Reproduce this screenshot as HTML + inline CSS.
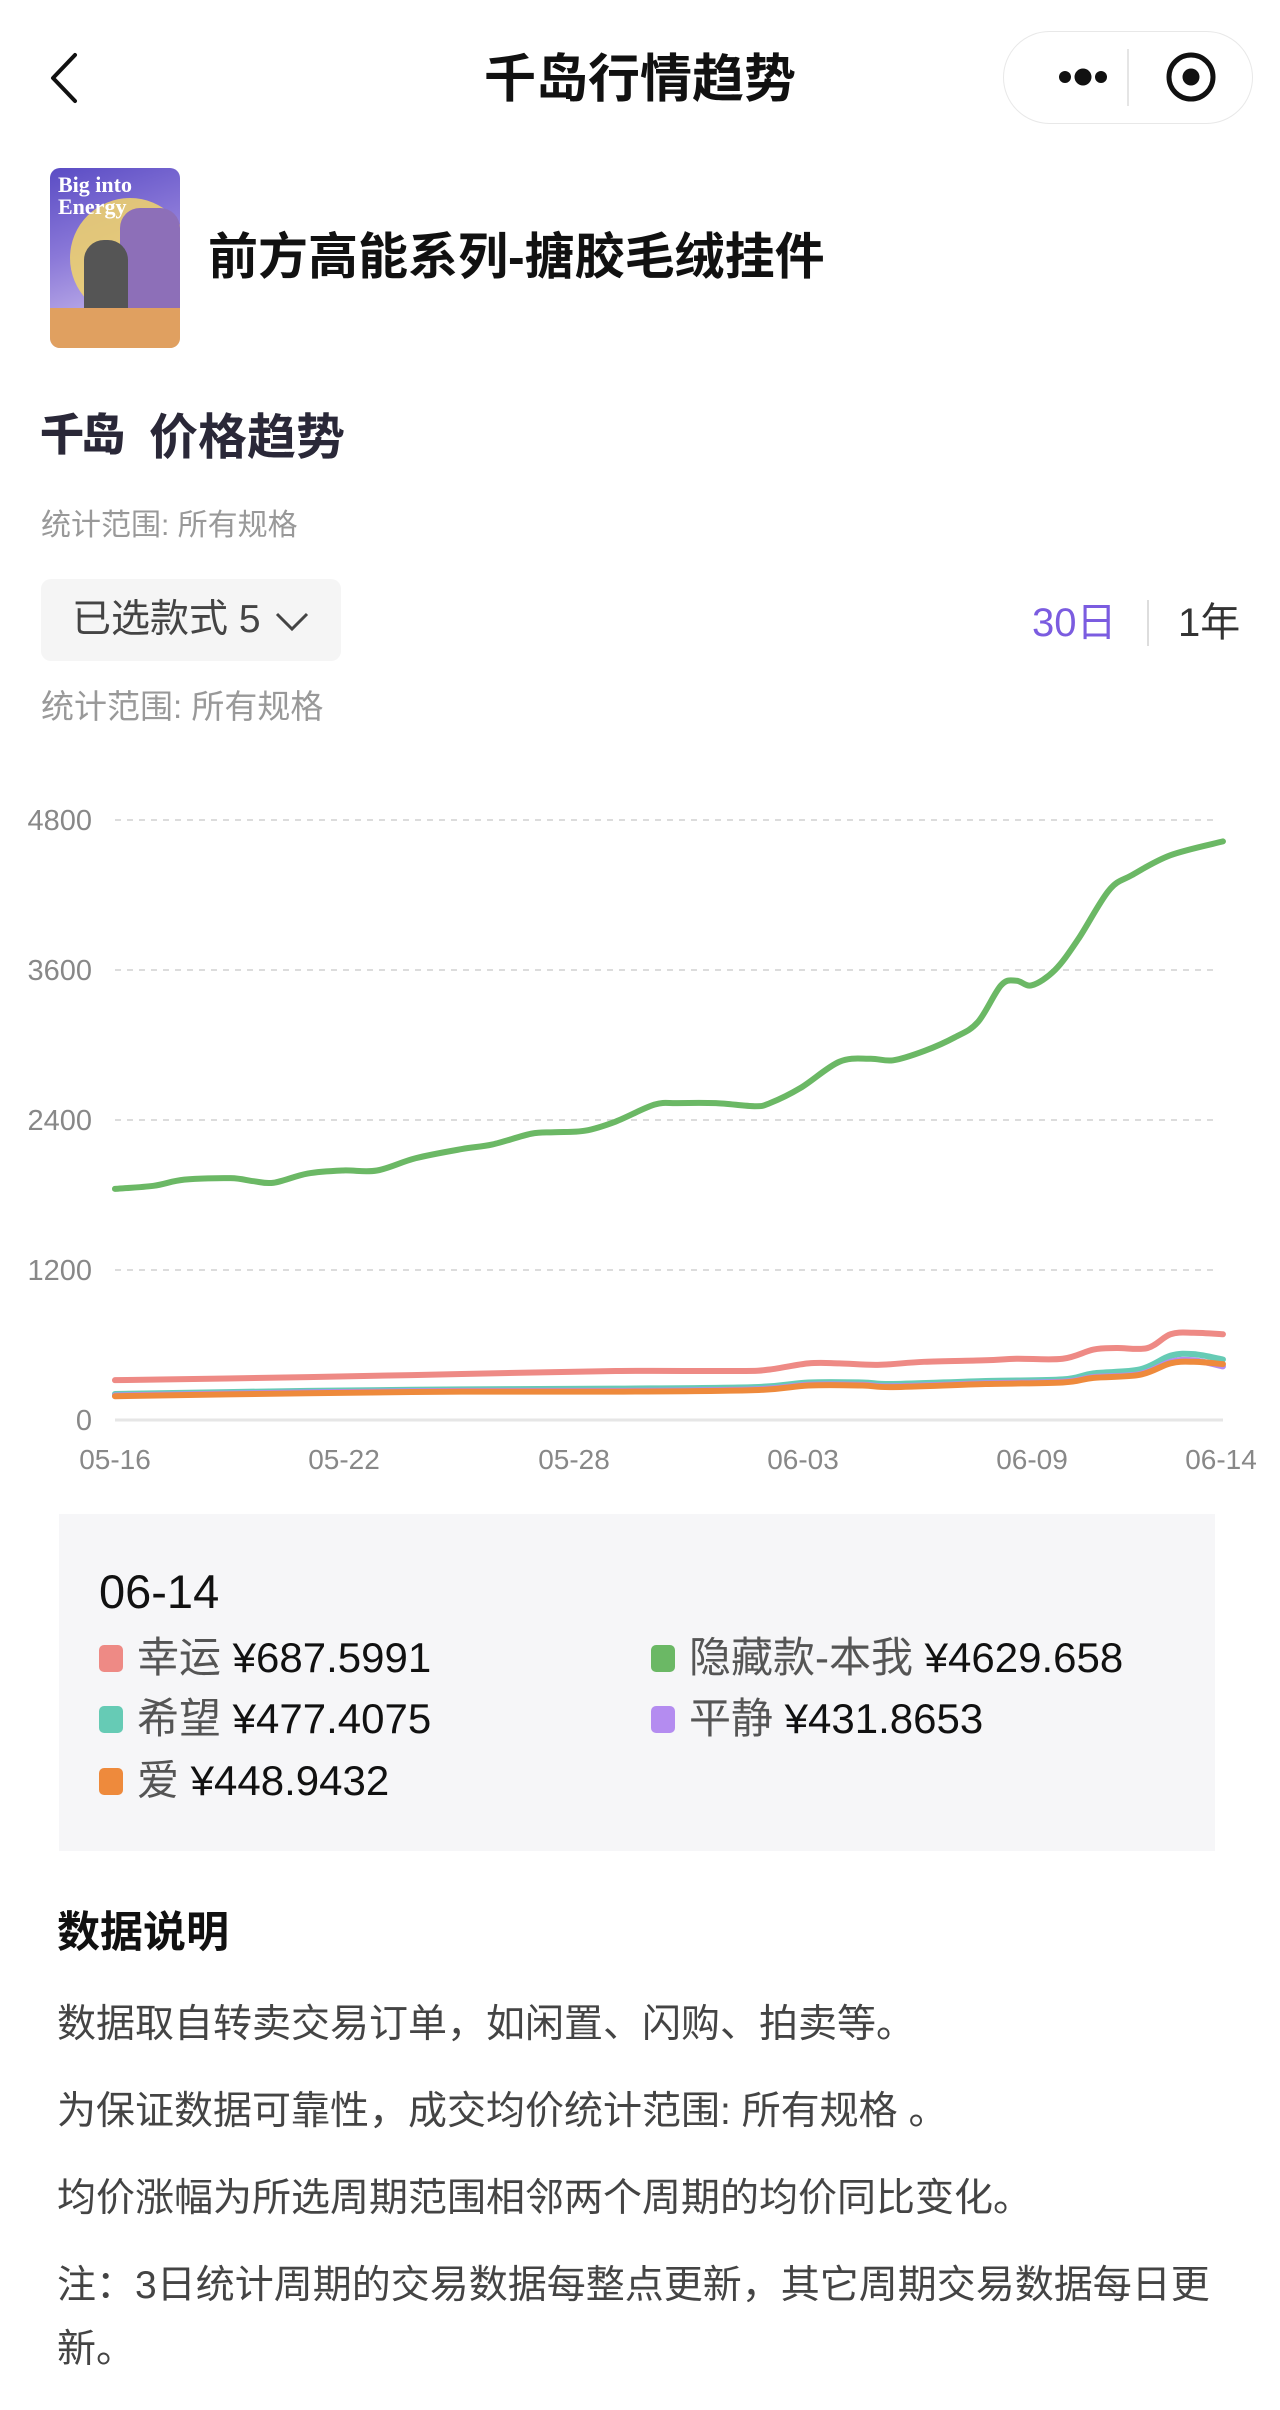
<!DOCTYPE html>
<html><head><meta charset="utf-8">
<style>
*{margin:0;padding:0;box-sizing:border-box}
body{width:1280px;height:2410px;background:#fff;font-family:"Liberation Sans","Noto Sans CJK SC",sans-serif;position:relative;overflow:hidden;color:#111}
.a{position:absolute;white-space:nowrap;line-height:1}
</style></head><body>
<!-- nav -->
<svg class="a" style="left:48px;top:52px" width="32" height="52" viewBox="0 0 32 52"><polyline points="27,3 5,26 27,49" fill="none" stroke="#111" stroke-width="4" stroke-linecap="round" stroke-linejoin="round"/></svg>
<div class="a" style="left:0;width:1280px;text-align:center;top:54px;font-size:52px;font-weight:bold;">千岛行情趋势</div>
<div class="a" style="left:1003px;top:31px;width:250px;height:93px;border:1.5px solid #e8e8e8;border-radius:47px;"></div>
<svg class="a" style="left:1003px;top:31px" width="250" height="93">
<circle cx="62" cy="46" r="6" fill="#111"/><circle cx="80" cy="46" r="8.5" fill="#111"/><circle cx="98" cy="46" r="6" fill="#111"/>
<line x1="125" y1="18" x2="125" y2="75" stroke="#e5e5e5" stroke-width="2"/>
<circle cx="188" cy="46" r="22" fill="none" stroke="#111" stroke-width="5"/><circle cx="188" cy="46" r="8.5" fill="#111"/>
</svg>
<!-- product -->
<div class="a" style="left:50px;top:168px;width:130px;height:180px;border-radius:10px;overflow:hidden;background:linear-gradient(160deg,#5a4cc4 0%,#8a78d8 40%,#b6a6e6 70%,#e6c6a0 100%)">
<div style="position:absolute;left:20px;top:30px;width:120px;height:120px;border-radius:50%;background:#f2d56a;opacity:.85"></div>
<div style="position:absolute;left:70px;top:40px;width:60px;height:110px;background:#8d6fb8;border-radius:20px 20px 0 0"></div>
<div style="position:absolute;left:34px;top:72px;width:44px;height:90px;background:#555;border-radius:20px"></div>
<div style="position:absolute;left:0;top:140px;width:130px;height:40px;background:#e0a060"></div>
<div style="position:absolute;left:8px;top:6px;color:#fff;font:bold 22px 'Liberation Serif',serif;line-height:22px">Big into<br>Energy</div>
</div>
<div class="a" style="left:208px;top:232px;font-size:50px;font-weight:bold;">前方高能系列-搪胶毛绒挂件</div>
<!-- section -->
<div class="a" style="left:40px;top:414px;font-size:44px;font-weight:900;color:#2a2838;letter-spacing:-3px;">千岛</div>
<div class="a" style="left:149px;top:414px;font-size:49px;font-weight:bold;color:#2a2838">价格趋势</div>
<div class="a" style="left:41px;top:511px;font-size:30px;color:#999">统计范围: 所有规格</div>
<div class="a" style="left:41px;top:579px;width:300px;height:82px;background:#f5f5f5;border-radius:10px"></div>
<div class="a" style="left:72px;top:600px;font-size:39px;color:#444">已选款式 5</div>
<svg class="a" style="left:274px;top:611px" width="36" height="22"><polyline points="3,3 18,18 33,3" fill="none" stroke="#444" stroke-width="3"/></svg>
<div class="a" style="left:1032px;top:603px;font-size:40px;color:#7b5ce0">30日</div>
<div class="a" style="left:1147px;top:600px;width:2px;height:46px;background:#ddd"></div>
<div class="a" style="left:1178px;top:603px;font-size:40px;color:#333">1年</div>
<div class="a" style="left:41px;top:690px;font-size:33px;color:#999">统计范围: 所有规格</div>
<!-- chart -->
<svg class="a" style="left:0;top:0" width="1280" height="1500">
<g stroke="#dcdcdc" stroke-width="2" stroke-dasharray="6 6">
<line x1="115" x2="1216" y1="820" y2="820"/><line x1="115" x2="1216" y1="970" y2="970"/><line x1="115" x2="1216" y1="1120" y2="1120"/><line x1="115" x2="1216" y1="1270" y2="1270"/>
</g>
<line x1="115" x2="1223" y1="1420" y2="1420" stroke="#e6e6e6" stroke-width="3"/>
<g font-family="Liberation Sans" font-size="29" fill="#888" text-anchor="end">
<text x="92" y="830">4800</text><text x="92" y="980">3600</text><text x="92" y="1130">2400</text><text x="92" y="1280">1200</text><text x="92" y="1430">0</text>
</g>
<g font-family="Liberation Sans" font-size="28" fill="#888" text-anchor="middle">
<text x="115" y="1469">05-16</text><text x="344" y="1469">05-22</text><text x="574" y="1469">05-28</text><text x="803" y="1469">06-03</text><text x="1032" y="1469">06-09</text><text x="1221" y="1469">06-14</text>
</g>
<g id="lines" fill="none" stroke-width="6" stroke-linecap="round" stroke-linejoin="round"></g>
</svg>
<script>
var S=[
["#66cbb5",[[75,907],[200,905],[300,904],[400,903.5],[490,902.5],[525,899.5],[560,899.5],[580,900.5],[640,898.5],[690,897.5],[710,893.5],[740,891],[760,882],[775,881],[794,884.5]]],
["#b48cf0",[[75,908],[200,906],[300,905],[400,905],[490,904],[525,901],[560,901],[580,902],[640,900],[690,899],[710,896],[740,894],[760,886],[775,885],[794,889]]],
["#ee8a3c",[[75,908.5],[200,906.5],[300,905.5],[400,905.5],[490,904.5],[525,901.5],[560,901.5],[580,902.5],[640,900.5],[690,899.5],[710,896.5],[740,894.5],[760,887],[775,886],[794,887.5]]],
["#ee8a85",[[75,898],[200,896],[300,894],[400,892],[480,892],[500,891],[525,887],[545,887],[570,888],[600,886],[640,885],[660,884],[690,884],[710,878],[725,877],[745,877],[760,868],[775,867],[794,868]]],
["#6bb865",[[75,773],[100,771],[120,767],[150,766],[165,768],[178,769],[200,763],[223,761],[245,761],[270,753],[300,747],[320,744],[345,737],[360,736],[380,735],[400,729],[425,718],[440,717],[465,717],[490,719],[500,717],[520,707],[545,690],[565,688],[580,689],[600,683],[620,674],[635,664],[650,640],[660,637],[670,640],[685,630],[700,610],[720,578],[735,568],[760,555],[794,546]]]
];
var g=document.getElementById('lines'),ns='http://www.w3.org/2000/svg';
S.forEach(function(s){
 var p=s[1].map(function(q){return [q[0]*1.541-0.6,q[1]*1.5306+5.7]});
 var d='M'+p[0][0]+','+p[0][1];
 for(var i=0;i<p.length-1;i++){
  var p0=p[i-1]||p[i],p1=p[i],p2=p[i+1],p3=p[i+2]||p2;
  d+=' C'+(p1[0]+(p2[0]-p0[0])/6)+','+(p1[1]+(p2[1]-p0[1])/6)+' '+(p2[0]-(p3[0]-p1[0])/6)+','+(p2[1]-(p3[1]-p1[1])/6)+' '+p2[0]+','+p2[1];
 }
 var e=document.createElementNS(ns,'path');e.setAttribute('d',d);e.setAttribute('stroke',s[0]);g.appendChild(e);
});
</script>
<!-- legend -->
<div class="a" style="left:59px;top:1514px;width:1156px;height:337px;background:#f6f6f8"></div>
<div class="a" style="left:99px;top:1568px;font-size:47px;color:#111">06-14</div>
<div class="a" style="left:99px;top:1645px;width:24px;height:27px;border-radius:5px;background:#ee8a85"></div>
<div class="a" style="left:137px;top:1637px;font-size:42px;"><span style="color:#555">幸运</span> ¥687.5991</div>
<div class="a" style="left:651px;top:1645px;width:24px;height:27px;border-radius:5px;background:#6bb865"></div>
<div class="a" style="left:689px;top:1637px;font-size:42px;"><span style="color:#555">隐藏款-本我</span> ¥4629.658</div>
<div class="a" style="left:99px;top:1706px;width:24px;height:27px;border-radius:5px;background:#66cbb5"></div>
<div class="a" style="left:137px;top:1698px;font-size:42px;"><span style="color:#555">希望</span> ¥477.4075</div>
<div class="a" style="left:651px;top:1706px;width:24px;height:27px;border-radius:5px;background:#b48cf0"></div>
<div class="a" style="left:689px;top:1698px;font-size:42px;"><span style="color:#555">平静</span> ¥431.8653</div>
<div class="a" style="left:99px;top:1768px;width:24px;height:27px;border-radius:5px;background:#ee8a3c"></div>
<div class="a" style="left:137px;top:1760px;font-size:42px;"><span style="color:#555">爱</span> ¥448.9432</div>
<!-- notes -->
<div class="a" style="left:57px;top:1912px;font-size:43px;font-weight:bold;color:#111">数据说明</div>
<div class="a" style="left:57px;top:2005px;font-size:39px;color:#444">数据取自转卖交易订单，如闲置、闪购、拍卖等。</div>
<div class="a" style="left:57px;top:2092px;font-size:39px;color:#444">为保证数据可靠性，成交均价统计范围: 所有规格 。</div>
<div class="a" style="left:57px;top:2179px;font-size:39px;color:#444">均价涨幅为所选周期范围相邻两个周期的均价同比变化。</div>
<div class="a" style="left:57px;top:2266px;font-size:39px;color:#444;letter-spacing:0px">注：3日统计周期的交易数据每整点更新，其它周期交易数据每日更</div>
<div class="a" style="left:57px;top:2330px;font-size:39px;color:#444">新。</div>
</body></html>
